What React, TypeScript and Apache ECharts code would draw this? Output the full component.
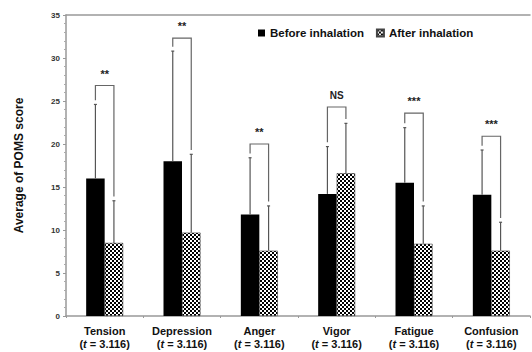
import React, { useEffect, useRef } from "react";
import * as echarts from "echarts";

const categories = ["Tension", "Depression", "Anger", "Vigor", "Fatigue", "Confusion"];
const tLabel = "3.116";
const before = [16.0, 18.0, 11.8, 14.2, 15.5, 14.1];
const beforeErr = [8.6, 12.8, 6.6, 5.5, 6.4, 5.2];
const after = [8.5, 9.7, 7.6, 16.6, 8.4, 7.6];
const afterErr = [4.9, 9.1, 5.2, 5.8, 4.4, 3.3];
const bracketTop = [26.8, 32.3, 20.0, 24.3, 23.6, 20.9];
const significance = ["**", "**", "**", "NS", "***", "***"];
const yTicks = { min: 0, max: 35, interval: 5 };

const BW = 18.5;
const FONT = "'Liberation Sans', Arial, sans-serif";

const checkerSvg =
  "data:image/svg+xml;utf8," +
  encodeURIComponent(
    "<svg xmlns='http://www.w3.org/2000/svg' width='4' height='4'><rect width='4' height='4' fill='white'/><rect width='2' height='2' fill='black'/><rect x='2' y='2' width='2' height='2' fill='black'/></svg>"
  );

export default function App() {
  const ref = useRef<HTMLDivElement>(null);
  useEffect(() => {
    const chart = echarts.init(ref.current!, null, { renderer: "svg" });
    const checker: any = { image: checkerSvg, repeat: "repeat", imageWidth: 4, imageHeight: 4 };
    const errColor = "#555";
    const errData = categories.map((_, i) => [i, before[i], beforeErr[i], after[i], afterErr[i], bracketTop[i]]);

    const option: any = {
      animation: false,
      textStyle: { fontFamily: FONT },
      grid: { left: 66, right: 2, top: 15, bottom: 36 },
      legend: {
        left: 253,
        top: 22,
        itemWidth: 7,
        itemHeight: 7,
        itemGap: 12,
        icon: "rect",
        textStyle: { fontFamily: FONT, fontWeight: "bold", fontSize: 11.5, color: "#111" },
        data: ["Before inhalation", "After inhalation"],
      },
      xAxis: [
        {
          type: "category",
          data: categories,
          axisLine: { lineStyle: { color: "#999", width: 1.5 } },
          axisTick: { show: true, length: 2, lineStyle: { color: "#999" } },
          axisLabel: {
            margin: 9,
            interval: 0,
            formatter: (v: string) => `{a|${v}}\n{a|(}{i|t}{a| = ${tLabel})}`,
            rich: {
              a: { fontFamily: FONT, fontWeight: "bold", fontSize: 11, color: "#111", lineHeight: 12.5 },
              i: { fontFamily: FONT, fontWeight: "bold", fontStyle: "italic", fontSize: 11, color: "#111", lineHeight: 12.5 },
            },
          },
        },
        {
          type: "category",
          position: "top",
          data: categories,
          axisLine: { lineStyle: { color: "#999", width: 1.5 } },
          axisTick: { show: false },
          axisLabel: { show: false },
        },
      ],
      yAxis: {
        type: "value",
        min: yTicks.min,
        max: yTicks.max,
        interval: yTicks.interval,
        name: "Average of POMS score",
        nameLocation: "middle",
        nameGap: 41,
        nameTextStyle: { fontFamily: FONT, fontWeight: "bold", fontSize: 12, color: "#111" },
        axisLine: { show: true, lineStyle: { color: "#999", width: 1.5 } },
        axisTick: { show: true, length: 3, lineStyle: { color: "#999" } },
        minorTick: { show: true, splitNumber: 5, length: 2, lineStyle: { color: "#aaa" } },
        splitLine: { show: false },
        axisLabel: { fontFamily: FONT, fontWeight: "bold", fontSize: 8, color: "#333", margin: 6 },
      },
      series: [
        {
          name: "Before inhalation",
          type: "bar",
          data: before,
          barWidth: BW,
          barGap: "0%",
          itemStyle: { color: "#000" },
        },
        {
          name: "After inhalation",
          type: "bar",
          data: after,
          barWidth: BW,
          barGap: "0%",
          itemStyle: { color: checker, borderColor: "#444", borderWidth: 0.6 },
        },
        {
          type: "custom",
          silent: true,
          z: 5,
          data: errData,
          renderItem: (params: any, api: any) => {
            const idx = api.value(0);
            const b = api.value(1), be = api.value(2), a = api.value(3), ae = api.value(4), br = api.value(5);
            const c = api.coord([idx, 0]);
            const xb = c[0] - BW / 2;
            const xa = c[0] + BW / 2;
            const yB = api.coord([idx, b])[1];
            const yBe = api.coord([idx, b + be])[1];
            const yA = api.coord([idx, a])[1];
            const yAe = api.coord([idx, a + ae])[1];
            const yBr = api.coord([idx, br])[1];
            const yLegB = api.coord([idx, b + be + 0.5])[1];
            const yLegA = api.coord([idx, a + ae + 0.5])[1];
            const ls = { stroke: errColor, lineWidth: 1.2 };
            const bs = { stroke: "#666", lineWidth: 1.2 };
            return {
              type: "group",
              children: [
                { type: "line", shape: { x1: xb, y1: yB, x2: xb, y2: yBe }, style: ls },
                { type: "line", shape: { x1: xb - 1.5, y1: yBe, x2: xb + 1.5, y2: yBe }, style: ls },
                { type: "line", shape: { x1: xa, y1: yA, x2: xa, y2: yAe }, style: ls },
                { type: "line", shape: { x1: xa - 1.5, y1: yAe, x2: xa + 1.5, y2: yAe }, style: ls },
                {
                  type: "polyline",
                  shape: { points: [[xb, yLegB], [xb, yBr], [xa, yBr], [xa, yLegA]] },
                  style: { ...bs, fill: "none" },
                },
                {
                  type: "text",
                  style: {
                    text: significance[idx],
                    x: c[0],
                    y: yBr - 12,
                    align: "center",
                    verticalAlign: "middle",
                    fontFamily: FONT,
                    fontWeight: "bold",
                    fontSize: significance[idx] === "NS" ? 10 : 11,
                    fill: "#222",
                  },
                },
              ],
            };
          },
        },
      ],
    };
    chart.setOption(option);
    return () => chart.dispose();
  }, []);
  return <div ref={ref} style={{ width: 532, height: 352, position: "absolute", left: 0, top: 0 }} />;
}
